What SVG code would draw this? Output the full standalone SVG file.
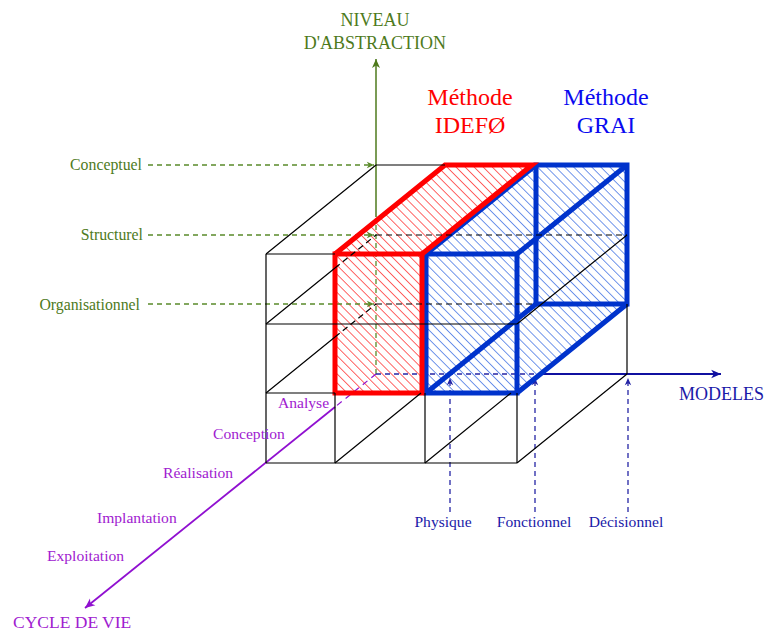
<svg xmlns="http://www.w3.org/2000/svg" width="768" height="632" viewBox="0 0 768 632">
<style>
.txt{font-family:"Liberation Serif","Times New Roman",serif;}
.green{fill:#4e7a1c;}
.purple{fill:#a020d0;}
.navy{fill:#1a1aa8;}
.thin{stroke:#000;stroke-width:1.2;fill:none;}
.hid{stroke:#000;stroke-width:1.2;fill:none;stroke-dasharray:6 4;}
.gline{stroke:#4e7a1c;stroke-width:1.5;fill:none;}
.gdash{stroke:#5a8a2a;stroke-width:1.3;fill:none;stroke-dasharray:5 4;}
.pline{stroke:#9010d0;stroke-width:1.8;fill:none;}
.pdash{stroke:#9010d0;stroke-width:1.2;fill:none;stroke-dasharray:6 5;}
.bline{stroke:#1010a0;stroke-width:1.8;fill:none;}
.bdash{stroke:#2525a5;stroke-width:1.3;fill:none;stroke-dasharray:5 4;}
.red{stroke:#ff0000;stroke-width:5;fill:none;}
.blue{stroke:#0033cc;stroke-width:5;fill:none;}
</style>
<defs>
<pattern id="hatchRed" patternUnits="userSpaceOnUse" width="6.4" height="6.4" patternTransform="rotate(45)">
<line x1="0" y1="0" x2="6.4" y2="0" stroke="#ff0000" stroke-width="1.2"/>
</pattern>
<pattern id="hatchBlue" patternUnits="userSpaceOnUse" width="6.4" height="6.4" patternTransform="rotate(45)">
<line x1="0" y1="0" x2="6.4" y2="0" stroke="#1550dd" stroke-width="1.2"/>
</pattern>
<marker id="arrG" viewBox="-10 -5 11 10" refX="0" refY="0" markerWidth="11" markerHeight="10" markerUnits="userSpaceOnUse" orient="auto">
<path d="M0,0 L-9,-4 L-6.5,0 L-9,4 Z" fill="#4e7a1c"/>
</marker>
<marker id="arrGs" viewBox="-10 -5 11 10" refX="0" refY="0" markerWidth="9" markerHeight="8" markerUnits="userSpaceOnUse" orient="auto">
<path d="M0,0 L-9,-4 L-6.5,0 L-9,4 Z" fill="#5a8a2a"/>
</marker>
<marker id="arrP" viewBox="-10 -5 11 10" refX="0" refY="0" markerWidth="12" markerHeight="11" markerUnits="userSpaceOnUse" orient="auto">
<path d="M0,0 L-9,-4 L-6.5,0 L-9,4 Z" fill="#9010d0"/>
</marker>
<marker id="arrB" viewBox="-10 -5 11 10" refX="0" refY="0" markerWidth="12" markerHeight="11" markerUnits="userSpaceOnUse" orient="auto">
<path d="M0,0 L-9,-4 L-6.5,0 L-9,4 Z" fill="#1010a0"/>
</marker>
<marker id="arrBs" viewBox="-10 -5 11 10" refX="0" refY="0" markerWidth="9" markerHeight="8" markerUnits="userSpaceOnUse" orient="auto">
<path d="M0,0 L-9,-4 L-6.5,0 L-9,4 Z" fill="#2525a5"/>
</marker>
</defs>
<rect width="768" height="632" fill="#ffffff"/>

<!-- hatched faces -->
<g id="idef0-fill">
<polygon points="335,393 335,254 445,165 532,165 422,254 422,393" fill="url(#hatchRed)"/>
</g>
<g id="grai-fill">
<polygon points="426,254 536,165 627,165 627,304 517,393 426,393" fill="url(#hatchBlue)"/>
</g>

<!-- connectors / axes -->
<g id="connectors">
<path class="gline" d="M376,217 V59" marker-end="url(#arrG)"/>
<path class="gdash" d="M376,374 V224"/>
<path class="gdash" d="M148,165 H374" marker-end="url(#arrGs)"/>
<path class="gdash" d="M148,235 H374" marker-end="url(#arrGs)"/>
<path class="gdash" d="M148,304 H374" marker-end="url(#arrGs)"/>
<path class="pdash" d="M376,374 L335,407"/>
<path class="pline" d="M335,407 L85,608" marker-end="url(#arrP)"/>
<path class="bdash" d="M376,374 H542"/>
<path class="bline" d="M542,374 H721" marker-end="url(#arrB)"/>
<path class="bdash" d="M450,512 V378" marker-end="url(#arrBs)"/>
<path class="bdash" d="M535,512 V378" marker-end="url(#arrBs)"/>
<path class="bdash" d="M628,512 V378" marker-end="url(#arrBs)"/>
</g>

<!-- thick outlines -->
<g id="grai-box">
<path class="blue" d="M426,254 H517 V393 H426 Z"/>
<path class="blue" d="M536,165 H627 V304 H536 Z"/>
<path class="blue" d="M426,254 L536,165 M517,254 L627,165 M517,393 L627,304 M426,393 L536,304"/>
</g>
<g id="idef0-box">
<path class="red" d="M335,254 H422 V393 H335 Z"/>
<path class="red" d="M335,254 L445,165 H532 L422,254"/>
</g>

<!-- wireframe grid -->
<g id="grid">
<path class="thin" d="M266,254 H335 M266,254 V463 M266,324 H517 M266,393 H335 M266,463 H517 M335,393 V463 M425,393 V463 M517,393 V463"/>
<path class="thin" d="M266,254 L376,165 M376,165 H445 M266,324 L335,268 M266,393 L335,337 M335,463 L421,393 M425,463 L511,393 M517,463 L627,374 M627,304 V374 M517,324 L627,235"/>
<path class="hid" d="M335,268 L376,235 M335,337 L376,304 M376,235 H627 M376,304 H535"/>
</g>

<!-- labels -->
<g id="label-niveau" class="txt green" font-family="'Liberation Serif', serif" font-size="18" text-anchor="middle">
<text x="375" y="26">NIVEAU</text>
<text x="375" y="49">D'ABSTRACTION</text>
</g>
<g id="label-idef0" font-family="'Liberation Serif', 'DejaVu Serif', serif" font-size="24" text-anchor="middle" fill="#ff0000">
<text x="470" y="105" font-family="'Liberation Serif', serif">Méthode</text>
<text x="470" y="133" font-family="'Liberation Serif', serif">IDEFØ</text>
</g>
<g id="label-grai" font-family="'Liberation Serif', 'DejaVu Serif', serif" font-size="24" text-anchor="middle" fill="#0a0af0">
<text x="606" y="105" font-family="'Liberation Serif', serif">Méthode</text>
<text x="606" y="133" font-family="'Liberation Serif', serif">GRAI</text>
</g>
<g id="label-levels" class="txt green" font-size="15.8" text-anchor="end">
<text x="142" y="170">Conceptuel</text>
<text x="143" y="240">Structurel</text>
<text x="140" y="310">Organisationnel</text>
</g>
<g id="label-modeles" class="txt navy">
<text x="679" y="400" font-size="18">MODELES</text>
<g font-size="15.6" text-anchor="middle">
<text x="443" y="527">Physique</text>
<text x="534" y="527">Fonctionnel</text>
<text x="626" y="527">Décisionnel</text>
</g>
</g>
<g id="label-cycle" class="txt purple" font-size="15.6">
<text x="278" y="408">Analyse</text>
<text x="213" y="439">Conception</text>
<text x="163" y="478">Réalisation</text>
<text x="97" y="523">Implantation</text>
<text x="47" y="561">Exploitation</text>
<text x="13" y="628" font-size="17.5">CYCLE DE VIE</text>
</g>
</svg>
